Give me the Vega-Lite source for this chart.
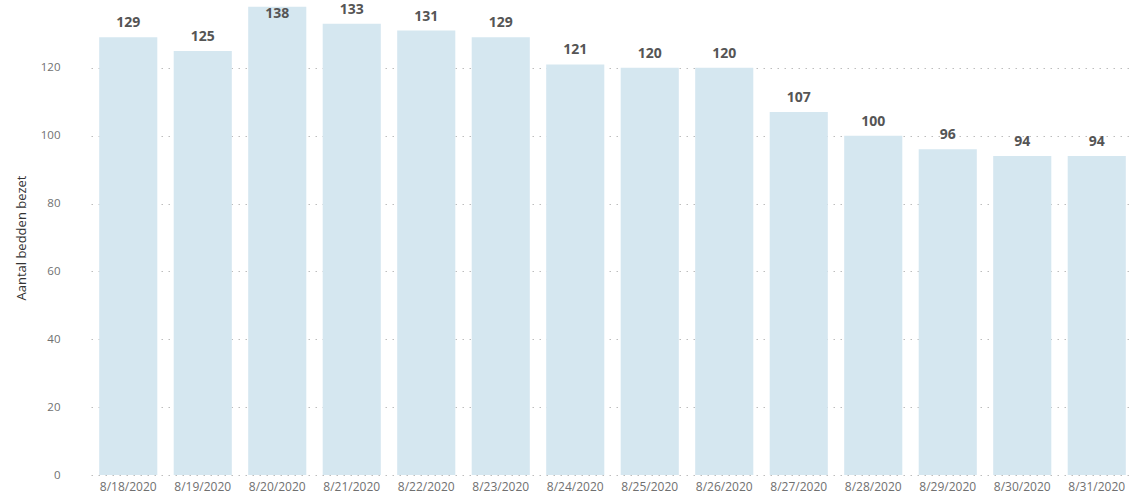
{
  "$schema": "https://vega.github.io/schema/vega-lite/v6.json",
  "autosize": {"type": "none"},
  "width": 1069,
  "height": 475,
  "padding": {"left": 68, "top": 0, "right": 0, "bottom": 22},
  "background": "white",
  "config": {"view": {"stroke": null}, "font": "Open Sans"},
  "data": {"values": [
    {"date": "8/18/2020", "beds": 129},
    {"date": "8/19/2020", "beds": 125},
    {"date": "8/20/2020", "beds": 138},
    {"date": "8/21/2020", "beds": 133},
    {"date": "8/22/2020", "beds": 131},
    {"date": "8/23/2020", "beds": 129},
    {"date": "8/24/2020", "beds": 121},
    {"date": "8/25/2020", "beds": 120},
    {"date": "8/26/2020", "beds": 120},
    {"date": "8/27/2020", "beds": 107},
    {"date": "8/28/2020", "beds": 100},
    {"date": "8/29/2020", "beds": 96},
    {"date": "8/30/2020", "beds": 94},
    {"date": "8/31/2020", "beds": 94}
  ]},
  "encoding": {
    "x": {"field": "date", "type": "ordinal", "sort": null,
      "scale": {"range": [23, 1066], "paddingInner": 0.22, "paddingOuter": 0.11},
      "axis": {"title": null, "labelAngle": 0, "domain": false, "ticks": false, "labelFontSize": 12, "labelColor": "#707070", "labelPadding": 6, "labelFont": "Open Sans"}},
    "y": {"field": "beds", "type": "quantitative",
      "scale": {"domain": [0, 140], "nice": false},
      "axis": {"title": "Aantal bedden bezet", "values": [0, 20, 40, 60, 80, 100, 120], "domain": false, "ticks": false,
        "labelFontSize": 11.5, "labelColor": "#707070", "labelPadding": 8, "labelFont": "Open Sans",
        "titleFontSize": 13, "titleFontWeight": "normal", "titleColor": "#333333", "titlePadding": 12, "titleFont": "Open Sans",
        "gridColor": "#bdbdbd", "gridDash": [1.5, 5.5], "gridWidth": 1.2}}
  },
  "layer": [
    {"mark": {"type": "bar", "color": "#d5e7f0"}},
    {"transform": [{"filter": "datum.beds <= 135"}],
     "mark": {"type": "text", "fontSize": 14, "fontWeight": "bold", "color": "#555555", "baseline": "alphabetic", "dy": -10, "font": "Open Sans"},
     "encoding": {"text": {"field": "beds", "type": "quantitative"}}},
    {"transform": [{"filter": "datum.beds > 135"}],
     "mark": {"type": "text", "fontSize": 14, "fontWeight": "bold", "color": "#555555", "baseline": "alphabetic", "dy": 11, "font": "Open Sans"},
     "encoding": {"text": {"field": "beds", "type": "quantitative"}}}
  ]
}
